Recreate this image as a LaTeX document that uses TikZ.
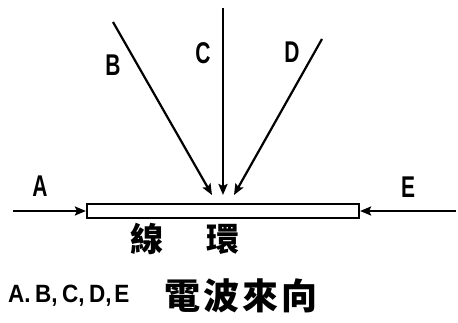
\documentclass[tikz,border=0pt]{standalone}
\usepackage{fontspec}
\setmainfont{Liberation Sans}
\newfontfamily\cjkfont{Noto Sans CJK TC}
\usetikzlibrary{arrows.meta}
\begin{document}
\begin{tikzpicture}[x=1pt,y=-1pt,
  wave/.style={line width=2.2pt,-{Stealth[length=11pt,width=9pt,inset=2pt]}},
  lbl/.style={font=\fontsize{30}{30}\selectfont\bfseries,inner sep=0pt},
  cjk/.style={inner sep=0pt}]
\useasboundingbox (0,0) rectangle (458,323);
\node[draw,line width=2.2pt,minimum width=272pt,minimum height=14pt,inner sep=0pt] (bar) at (223,211) {};
\coordinate (a0) at (13,211);
\coordinate (e0) at (456,211);
\coordinate (b0) at (113,22);
\coordinate (c0) at (223,8);
\coordinate (d0) at (322,39);
\coordinate (b1) at (212,195);
\coordinate (c1) at (223,195);
\coordinate (d1) at (234,195);
\draw[wave] (a0) -- (bar.west);
\draw[wave] (e0) -- (bar.east);
\draw[wave] (b0) -- (b1);
\draw[wave] (c0) -- (c1);
\draw[wave] (d0) -- (d1);
\node[lbl] (la) at (40,186) {\scalebox{0.7}[1]{A}};
\node[lbl] (le) at (408,187) {\scalebox{0.7}[1]{E}};
\node[lbl] (lb) at (113,65) {\scalebox{0.7}[1]{B}};
\node[lbl] (lc) at (203,53) {\scalebox{0.7}[1]{C}};
\node[lbl] (ld) at (292,52) {\scalebox{0.7}[1]{D}};
\node[cjk,font=\cjkfont\bfseries\fontsize{33}{33}\selectfont] (coil) at (185,239) {線\hspace{44pt}環};
\node[inner sep=0pt,anchor=west,font=\fontsize{25}{25}\selectfont\bfseries] (legend) at (8,296) {\scalebox{0.9}[1]{A.\hspace{5pt}B,\hspace{5pt}C,\hspace{5pt}D,\hspace{3pt}E}};
\node[cjk,anchor=west,font=\cjkfont\bfseries\fontsize{36}{36}\selectfont] (dir) at (164,296) {電\hspace{3pt}波\hspace{3pt}來\hspace{3pt}向};
\end{tikzpicture}
\end{document}
